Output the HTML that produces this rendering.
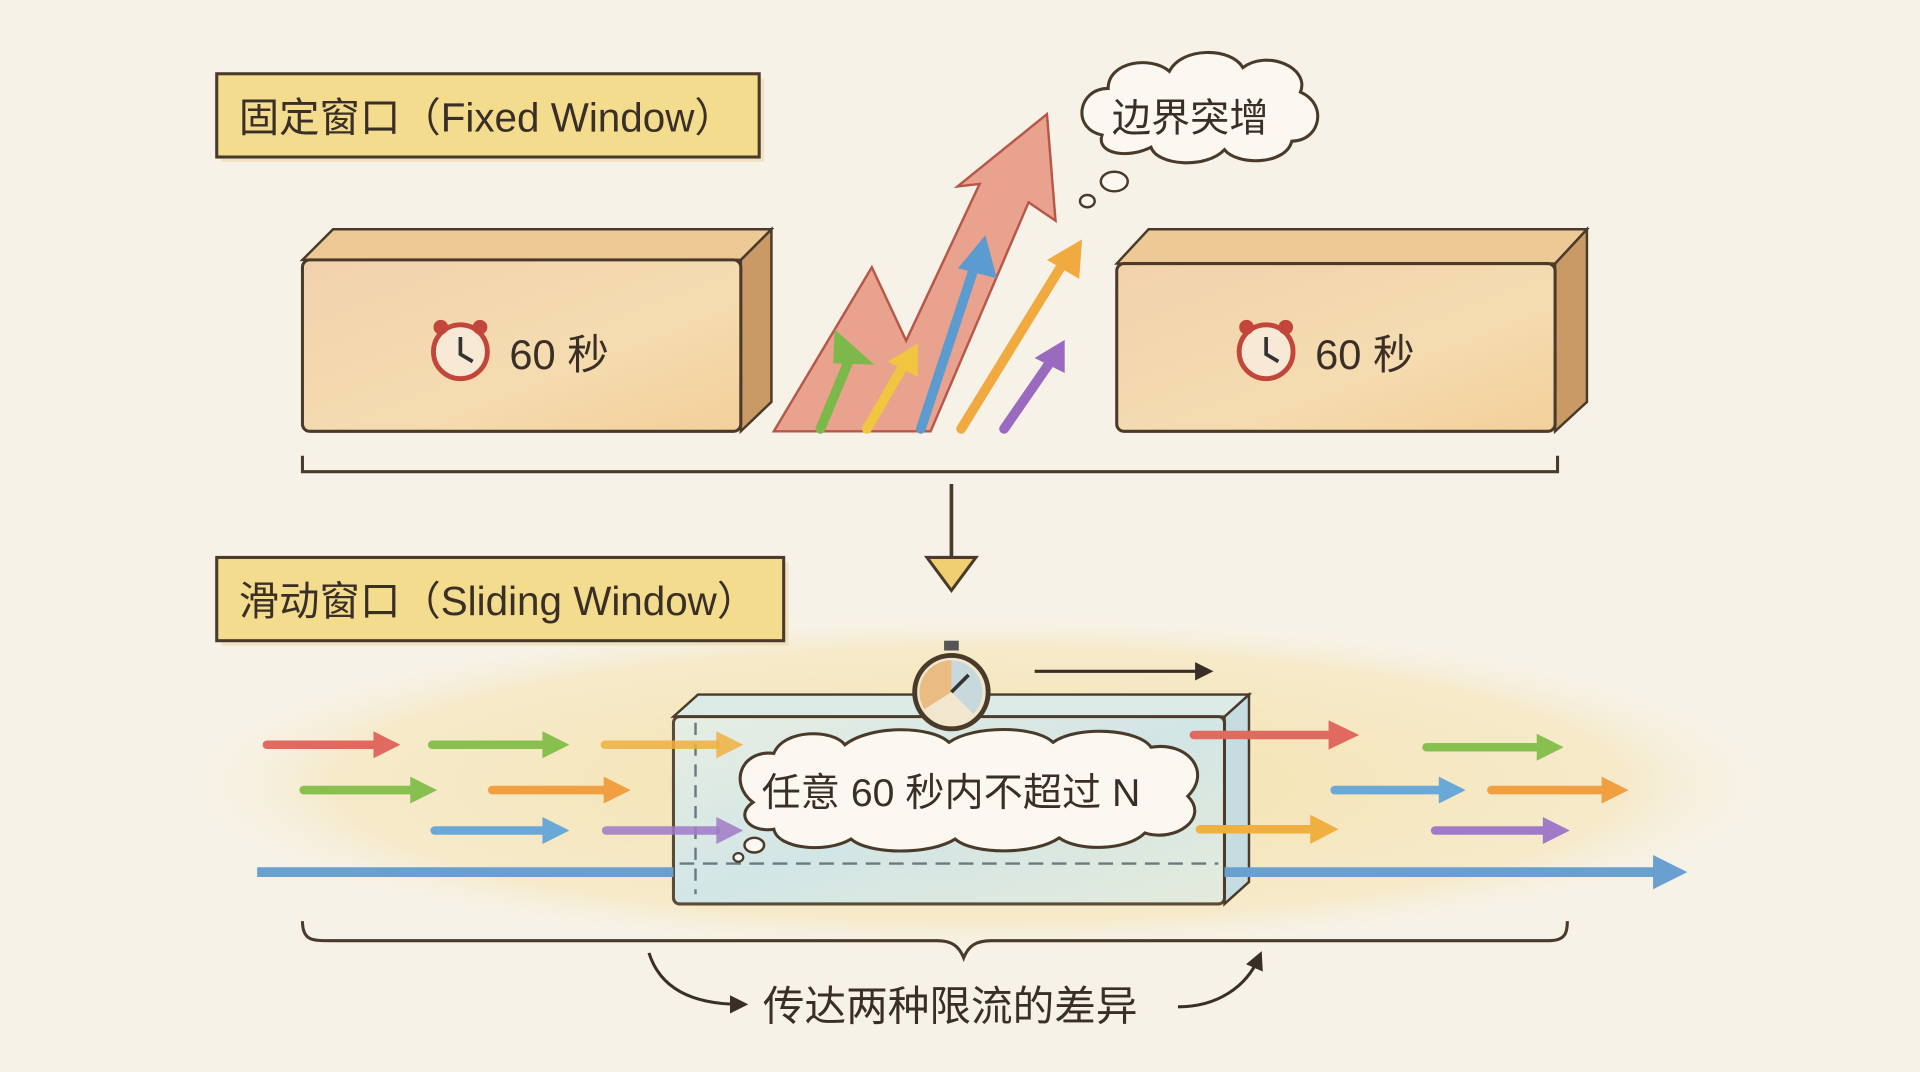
<!DOCTYPE html>
<html><head><meta charset="utf-8"><style>
html,body{margin:0;padding:0;background:#f7f2e7;}
svg{display:block}
text{font-family:"Liberation Sans","Noto Sans CJK SC",sans-serif;fill:#3a2f26}
</style></head><body>
<svg width="1920" height="1072" viewBox="0 0 1568 875" xmlns="http://www.w3.org/2000/svg">
<defs>
<linearGradient id="blk" x1="0" y1="0" x2="1" y2="1">
<stop offset="0" stop-color="#f1d2ad"/><stop offset="0.6" stop-color="#f5dcb0"/><stop offset="1" stop-color="#f3cf9a"/></linearGradient>
<linearGradient id="glass" x1="0" y1="0" x2="1" y2="1">
<stop offset="0" stop-color="#e6efe8"/><stop offset="0.5" stop-color="#cfe6ea"/><stop offset="1" stop-color="#e3ecdf"/></linearGradient>
<radialGradient id="wash" cx="0.5" cy="0.5" r="0.5">
<stop offset="0" stop-color="#f4dc9a" stop-opacity="0.8"/><stop offset="0.8" stop-color="#f4e2ad" stop-opacity="0.5"/><stop offset="1" stop-color="#f7f2e7" stop-opacity="0"/></radialGradient>
<marker id="ah" viewBox="0 0 10 10" refX="6" refY="5" markerWidth="6" markerHeight="6" orient="auto"><path d="M0,0 L10,5 L0,10 z" fill="#3a2f26"/></marker>
</defs>
<rect width="1568" height="875" fill="#f7f2e7"/>

<rect x="181" y="64" width="443" height="68" fill="#e9d8a8" opacity="0.6"/>
<rect x="177" y="60" width="443" height="68" fill="#f3dc8e" stroke="#4a3a2a" stroke-width="2.5"/>
<text x="195" y="107" font-size="33">固定窗口（Fixed Window）</text>

<path d="M605,212 L630,187 L630,328 L605,352 Z" fill="#c99a66" stroke="#4a3a2a" stroke-width="2"/>
<path d="M247,212 L272,187 L630,187 L605,212 Z" fill="#edc995" stroke="#4a3a2a" stroke-width="2"/>
<rect x="247" y="212" width="358" height="140" rx="6" fill="url(#blk)" stroke="#4a3a2a" stroke-width="2.5"/>
<g transform="translate(376,287)">
<circle r="22" fill="#f8e8d6" stroke="#c2473a" stroke-width="4"/>
<circle cx="-16" cy="-20" r="6" fill="#c2473a"/><circle cx="16" cy="-20" r="6" fill="#c2473a"/>
<path d="M0,-12 L0,2 L10,8" stroke="#333" stroke-width="3" fill="none"/></g>
<text x="416" y="301" font-size="34">60 秒</text>

<path d="M1270,215 L1296,187 L1296,328 L1270,352 Z" fill="#c99a66" stroke="#4a3a2a" stroke-width="2"/>
<path d="M912,215 L938,187 L1296,187 L1270,215 Z" fill="#edc995" stroke="#4a3a2a" stroke-width="2"/>
<rect x="912" y="215" width="358" height="137" rx="6" fill="url(#blk)" stroke="#4a3a2a" stroke-width="2.5"/>
<g transform="translate(1034,287)">
<circle r="22" fill="#f8e8d6" stroke="#c2473a" stroke-width="4"/>
<circle cx="-16" cy="-20" r="6" fill="#c2473a"/><circle cx="16" cy="-20" r="6" fill="#c2473a"/>
<path d="M0,-12 L0,2 L10,8" stroke="#333" stroke-width="3" fill="none"/></g>
<text x="1074" y="301" font-size="34">60 秒</text>

<path d="M632,352 L712,218 L740,278 L800,150 L782,152 L855,93 L862,180 L840,165 L760,352 Z" fill="#e89a85" stroke="#b0473a" stroke-width="2" opacity="0.9"/>
<g stroke-width="8" fill="none" stroke-linecap="round">
<path d="M670,350 L695,290" stroke="#7cb84a"/><path d="M683,272 L710,296 L682,295Z" fill="#7cb84a" stroke="#7cb84a" stroke-width="3"/>
<path d="M708,350 L738,298" stroke="#f0c640"/><path d="M748,283 L748,305 L728,295Z" fill="#f0c640" stroke="#f0c640" stroke-width="3"/>
<path d="M752,350 L795,220" stroke="#5b9bd0"/><path d="M804,195 L812,225 L785,218Z" fill="#5b9bd0" stroke="#5b9bd0" stroke-width="3"/>
<path d="M785,350 L868,215" stroke="#f0aa40"/><path d="M882,198 L880,225 L858,212Z" fill="#f0aa40" stroke="#f0aa40" stroke-width="3"/>
<path d="M820,350 L858,295" stroke="#9a6ac0"/><path d="M868,280 L868,302 L848,292Z" fill="#9a6ac0" stroke="#9a6ac0" stroke-width="3"/>
</g>

<path d="M900,110 C875,105 880,72 905,72 C905,50 940,45 955,58 C965,38 1005,38 1015,55 C1035,40 1070,55 1062,75 C1085,85 1078,115 1055,115 C1050,135 1010,135 1000,122 C985,138 945,135 940,120 C920,130 895,125 900,110 Z" fill="#fbf8f1" stroke="#4a3a2a" stroke-width="2.5"/>
<text x="908" y="107" font-size="32">边界突增</text>
<ellipse cx="910" cy="148" rx="11" ry="8" fill="#fbf8f1" stroke="#4a3a2a" stroke-width="2"/>
<ellipse cx="888" cy="164" rx="6" ry="5" fill="#fbf8f1" stroke="#4a3a2a" stroke-width="2"/>

<path d="M247,372 L247,385 L1272,385 L1272,372" stroke="#4a3a2a" stroke-width="2.5" fill="none"/>

<path d="M777,395 L777,455" stroke="#4a3a2a" stroke-width="3"/>
<path d="M757,455 L797,455 L777,482 Z" fill="#f0cf72" stroke="#4a3a2a" stroke-width="2.5"/>

<ellipse cx="800" cy="640" rx="660" ry="140" fill="url(#wash)"/>
<rect x="181" y="459" width="463" height="68" fill="#e9d8a8" opacity="0.6"/>
<rect x="177" y="455" width="463" height="68" fill="#f3dc8e" stroke="#4a3a2a" stroke-width="2.5"/>
<text x="195" y="502" font-size="33">滑动窗口（Sliding Window）</text>

<path d="M1000,585 L1020,567 L1020,720 L1000,738 Z" fill="#c5dde0" stroke="#4a3a2a" stroke-width="2"/>
<path d="M550,585 L570,567 L1020,567 L1000,585 Z" fill="#dcebe6" stroke="#4a3a2a" stroke-width="2"/>
<rect x="550" y="585" width="450" height="153" rx="5" fill="url(#glass)" stroke="#4a3a2a" stroke-width="2.5" opacity="0.9"/>
<line x1="555" y1="705" x2="995" y2="705" stroke="#6a7a80" stroke-width="2" stroke-dasharray="12,7"/>
<line x1="568" y1="590" x2="568" y2="730" stroke="#6a7a80" stroke-width="2" stroke-dasharray="10,7"/>

<g stroke-width="7" stroke-linecap="round">
<line x1="218" y1="608" x2="305" y2="608" stroke="#e06a60"/><path d="M305,597 L327,608 L305,619Z" fill="#e06a60"/>
<line x1="353" y1="608" x2="443" y2="608" stroke="#88c050"/><path d="M443,597 L465,608 L443,619Z" fill="#88c050"/>
<line x1="494" y1="608" x2="585" y2="608" stroke="#f0b040" opacity="0.85"/><path d="M585,597 L607,608 L585,619Z" fill="#f0b040" opacity="0.85"/>
<line x1="248" y1="645" x2="335" y2="645" stroke="#88c050"/><path d="M335,634 L357,645 L335,656Z" fill="#88c050"/>
<line x1="402" y1="645" x2="493" y2="645" stroke="#f0a040"/><path d="M493,634 L515,645 L493,656Z" fill="#f0a040"/>
<line x1="355" y1="678" x2="443" y2="678" stroke="#6aa8d8"/><path d="M443,667 L465,678 L443,689Z" fill="#6aa8d8"/>
<line x1="495" y1="678" x2="585" y2="678" stroke="#a07ac8" opacity="0.85"/><path d="M585,667 L607,678 L585,689Z" fill="#a07ac8" opacity="0.85"/>
</g>

<line x1="210" y1="712" x2="550" y2="712" stroke="#6aa0d0" stroke-width="8"/>
<line x1="1000" y1="712" x2="1352" y2="712" stroke="#6aa0d0" stroke-width="8"/>
<path d="M1350,698 L1378,712 L1350,726Z" fill="#6aa0d0"/>

<g stroke-width="7" stroke-linecap="round">
<line x1="975" y1="600" x2="1085" y2="600" stroke="#e06a60"/><path d="M1085,588 L1110,600 L1085,612Z" fill="#e06a60"/>
<line x1="1165" y1="610" x2="1255" y2="610" stroke="#88c050"/><path d="M1255,599 L1277,610 L1255,621Z" fill="#88c050"/>
<line x1="1090" y1="645" x2="1175" y2="645" stroke="#6aa8d8"/><path d="M1175,634 L1197,645 L1175,656Z" fill="#6aa8d8"/>
<line x1="1218" y1="645" x2="1308" y2="645" stroke="#f0a040"/><path d="M1308,634 L1330,645 L1308,656Z" fill="#f0a040"/>
<line x1="980" y1="677" x2="1070" y2="677" stroke="#f0b040"/><path d="M1070,665 L1093,677 L1070,689Z" fill="#f0b040"/>
<line x1="1172" y1="678" x2="1260" y2="678" stroke="#a07ac8"/><path d="M1260,667 L1282,678 L1260,689Z" fill="#a07ac8"/>
</g>

<line x1="845" y1="548" x2="985" y2="548" stroke="#3a2f26" stroke-width="2.5" marker-end="url(#ah)"/>
<g transform="translate(777,565)">
<rect x="-6" y="-42" width="12" height="8" fill="#555"/>
<circle r="30" fill="#f3e6cf" stroke="#4a3a2a" stroke-width="4"/>
<path d="M0,0 L0,-26 A26,26 0 0 0 -22,14 Z" fill="#e8b070" opacity="0.8"/>
<path d="M0,0 L0,-26 A26,26 0 0 1 18,18 Z" fill="#bcd6e0" opacity="0.8"/>
<path d="M0,0 L14,-14" stroke="#333" stroke-width="3"/></g>

<path d="M615,655 C595,640 605,612 632,615 C640,595 680,595 690,608 C710,592 760,592 775,606 C795,592 845,592 860,606 C880,592 930,595 940,610 C970,605 990,630 970,650 C988,668 960,688 935,680 C920,695 880,695 865,684 C845,698 795,698 780,685 C760,698 710,698 695,685 C675,697 635,693 632,677 C612,680 600,665 615,655 Z" fill="#fbf8f1" stroke="#4a3a2a" stroke-width="2.5"/>
<text x="622" y="658" font-size="32">任意 60 秒内不超过 N</text>
<ellipse cx="616" cy="690" rx="8" ry="6" fill="#fbf8f1" stroke="#4a3a2a" stroke-width="2"/>
<ellipse cx="603" cy="700" rx="4" ry="3.5" fill="#fbf8f1" stroke="#4a3a2a" stroke-width="1.8"/>

<path d="M247,752 C247,768 255,768 270,768 L765,768 C777,768 783,772 787,782 C791,772 797,768 810,768 L1265,768 C1278,768 1280,762 1280,752" stroke="#4a3a2a" stroke-width="2.5" fill="none"/>

<path d="M530,778 C540,810 570,820 605,820" stroke="#3a2f26" stroke-width="2.5" fill="none" marker-end="url(#ah)"/>
<text x="623" y="833" font-size="34">传达两种限流的差异</text>
<path d="M962,822 C995,822 1018,805 1028,782" stroke="#3a2f26" stroke-width="2.5" fill="none" marker-end="url(#ah)"/>
</svg>
</body></html>
